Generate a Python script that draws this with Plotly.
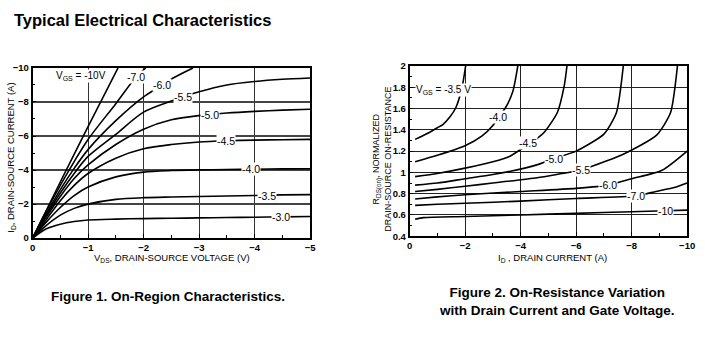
import plotly.graph_objects as go

# ---- Figure 1: drain current vs drain-source voltage, one curve per VGS ----
vds_sat = [0, -0.25, -0.5, -0.75, -1, -1.5, -2, -2.5, -3, -3.5, -4, -4.5, -5]
id_vgs_3_0 = [0, -0.55, -0.82, -0.98, -1.07, -1.12, -1.15, -1.17, -1.19, -1.21, -1.23, -1.25, -1.27]
id_vgs_3_5 = [0, -0.75, -1.35, -1.75, -2.0, -2.28, -2.38, -2.42, -2.45, -2.48, -2.51, -2.54, -2.56]
id_vgs_4_0 = [0, -0.95, -1.8, -2.5, -3.0, -3.6, -3.88, -3.97, -4.01, -4.03, -4.05, -4.07, -4.08]
id_vgs_4_5 = [0, -1.1, -2.2, -3.1, -3.8, -4.7, -5.25, -5.5, -5.65, -5.72, -5.76, -5.78, -5.8]
id_vgs_5_0 = [0, -1.25, -2.45, -3.5, -4.3, -5.5, -6.4, -6.95, -7.2, -7.35, -7.45, -7.52, -7.57]
id_vgs_5_5 = [0, -1.35, -2.65, -3.8, -4.8, -6.1, -7.4, -8.05, -8.6, -9.0, -9.2, -9.33, -9.41]

vds_6_0 = [0, -0.25, -0.5, -0.75, -1, -1.5, -2, -2.34, -2.5, -2.89]
id_vgs_6_0 = [0, -1.45, -2.85, -4.1, -5.2, -6.9, -8.3, -9.0, -9.35, -10]
vds_7_0 = [0, -0.25, -0.5, -0.75, -1, -1.5, -1.86, -2.04]
id_vgs_7_0 = [0, -1.6, -3.1, -4.5, -5.8, -7.9, -9.45, -10]
vds_10 = [0, -0.5, -1, -1.54]
id_vgs_10 = [0, -3.3, -6.55, -10]

fig1_curves = [
    (vds_sat, id_vgs_3_0), (vds_sat, id_vgs_3_5), (vds_sat, id_vgs_4_0),
    (vds_sat, id_vgs_4_5), (vds_sat, id_vgs_5_0), (vds_sat, id_vgs_5_5),
    (vds_6_0, id_vgs_6_0), (vds_7_0, id_vgs_7_0), (vds_10, id_vgs_10),
]
fig1_labels = ["-3.0", "-3.5", "-4.0", "-4.5", "-5.0", "-5.5", "-6.0", "-7.0"]
fig1_label_x = [-4.47, -4.22, -3.94, -3.49, -3.19, -2.71, -2.34, -1.86]
fig1_label_y = [-1.22, -2.5, -4.06, -5.73, -7.24, -8.28, -9.0, -9.45]

# ---- Figure 2: normalized on-resistance vs drain current ----
id_3_5 = [-0.2, -0.6, -1.0, -1.2, -1.45, -1.67, -1.9, -2.02]
r_3_5 = [1.31, 1.36, 1.42, 1.45, 1.52, 1.61, 1.81, 2.0]
id_4_0 = [-0.2, -1, -2, -2.6, -3.0, -3.2, -3.44, -3.72, -3.9]
r_4_0 = [1.1, 1.16, 1.25, 1.34, 1.44, 1.52, 1.6, 1.76, 2.0]
id_4_5 = [-0.2, -1, -2, -3, -3.6, -4.03, -4.5, -4.86, -5.32, -5.57, -5.67]
r_4_5 = [0.96, 0.99, 1.04, 1.1, 1.15, 1.22, 1.3, 1.38, 1.56, 1.81, 2.0]
id_5_0 = [-0.2, -1, -2, -3, -4.15, -4.7, -5.2, -6.0, -7.0, -7.45, -7.7]
r_5_0 = [0.88, 0.9, 0.94, 0.98, 1.04, 1.08, 1.13, 1.2, 1.36, 1.56, 2.0]
id_5_5 = [-0.2, -1, -2, -3, -4.6, -5.5, -6.17, -6.5, -7.7, -8.9, -9.4, -9.65]
r_5_5 = [0.82, 0.84, 0.87, 0.9, 0.95, 0.99, 1.02, 1.05, 1.17, 1.35, 1.56, 2.0]
id_6_0 = [-0.2, -1, -2, -4, -6, -7.16, -8, -9.1, -10]
r_6_0 = [0.75, 0.77, 0.79, 0.82, 0.85, 0.88, 0.94, 1.02, 1.2]
id_7_0 = [-0.2, -1, -2, -4, -6, -8.16, -8.87, -9.57, -10]
r_7_0 = [0.69, 0.7, 0.71, 0.73, 0.755, 0.78, 0.82, 0.86, 0.9]
id_10 = [-0.2, -0.5, -2, -4, -6, -8, -9.22, -10]
r_10 = [0.56, 0.575, 0.585, 0.6, 0.615, 0.63, 0.64, 0.645]

fig2_curves = [
    (id_3_5, r_3_5), (id_4_0, r_4_0), (id_4_5, r_4_5), (id_5_0, r_5_0),
    (id_5_5, r_5_5), (id_6_0, r_6_0), (id_7_0, r_7_0), (id_10, r_10),
]
fig2_labels = ["-4.0", "-4.5", "-5.0", "-5.5", "-6.0", "-7.0", "-10"]
fig2_label_x = [-3.2, -4.25, -5.2, -6.17, -7.16, -8.16, -9.22]
fig2_label_y = [1.52, 1.28, 1.13, 1.02, 0.88, 0.78, 0.64]

FONT = "Liberation Sans, Arial, sans-serif"
W, H = 705, 337

fig = go.Figure()

for xs, ys in fig1_curves:
    fig.add_trace(go.Scatter(x=xs, y=ys, mode="lines", xaxis="x", yaxis="y",
                             line=dict(color="black", width=1.6, shape="spline", smoothing=0.8),
                             hoverinfo="skip", showlegend=False))
for xs, ys in fig2_curves:
    fig.add_trace(go.Scatter(x=xs, y=ys, mode="lines", xaxis="x2", yaxis="y2",
                             line=dict(color="black", width=1.6, shape="spline", smoothing=0.6),
                             hoverinfo="skip", showlegend=False))


def px_x(p):
    return p / W


def px_y(p):
    return 1 - p / H


tickfont = dict(family=FONT, size=9.5, color="black", weight="bold")
axis_common = dict(showline=True, linecolor="black", linewidth=1.5, mirror=True,
                   ticks="inside", ticklen=4, tickcolor="black", tickfont=tickfont,
                   zeroline=False, fixedrange=True)

fig.update_layout(
    width=W, height=H, autosize=False,
    margin=dict(l=0, r=0, t=0, b=0),
    paper_bgcolor="white", plot_bgcolor="white",
    font=dict(family=FONT, color="black"),
    xaxis=dict(domain=[px_x(30), px_x(312)], range=[0, -5], dtick=1, anchor="y",
               showgrid=True, gridcolor="#333", gridwidth=1.3,
               minor=dict(dtick=0.5, ticks="inside", ticklen=3, tickcolor="black", showgrid=False),
               **axis_common),
    yaxis=dict(domain=[px_y(240), px_y(64)], range=[0, -10], dtick=2, anchor="x",
               showgrid=True, gridcolor="#444", gridwidth=1.5,
               minor=dict(dtick=1, ticks="inside", ticklen=3, tickcolor="black", showgrid=False),
               **axis_common),
    xaxis2=dict(domain=[px_x(413), px_x(695)], range=[0, -10], dtick=2, anchor="y2",
                showgrid=True, gridcolor="#222", gridwidth=1,
                minor=dict(dtick=1, ticks="inside", ticklen=3, tickcolor="black", showgrid=False),
                **axis_common),
    yaxis2=dict(domain=[px_y(238), px_y(62)], range=[0.4, 2], dtick=0.2, anchor="x2",
                tickformat="~g", ticklabelstandoff=0,
                showgrid=True, gridcolor="#222", gridwidth=1,
                minor=dict(dtick=0.1, ticks="inside", ticklen=3, tickcolor="black", showgrid=False),
                **axis_common),
)

ann = []
label_font = dict(family=FONT, size=10.5, color="black")
vgs_font = dict(family=FONT, size=10, color="black")


def centered(**kw):
    d = dict(showarrow=False, xanchor="center", yanchor="middle")
    d.update(kw)
    return d


for t, x, y in zip(fig1_labels, fig1_label_x, fig1_label_y):
    ann.append(centered(text=t, x=x, y=y, xref="x", yref="y",
                        bgcolor="white", borderpad=0, font=label_font))
ann.append(centered(text="V<sub>GS</sub> = -10V", x=-0.87, y=-9.5, xref="x", yref="y",
                    bgcolor="white", borderpad=0, font=vgs_font))

for t, x, y in zip(fig2_labels, fig2_label_x, fig2_label_y):
    ann.append(centered(text=t, x=x, y=y, xref="x2", yref="y2",
                        bgcolor="white", borderpad=0, font=label_font))
ann.append(centered(text="V<sub>GS</sub> = -3.5 V", x=-1.22, y=1.77, xref="x2", yref="y2",
                    bgcolor="white", borderpad=0, font=vgs_font))

title_font = dict(family=FONT, size=9.5, color="black")

# axis titles
ann.append(centered(text="V<sub>DS</sub>, DRAIN-SOURCE VOLTAGE (V)", x=px_x(172), y=px_y(260),
                    xref="paper", yref="paper", font=title_font))
ann.append(centered(text="I<sub>D</sub>, DRAIN-SOURCE CURRENT (A)", x=px_x(8), y=px_y(157),
                    xref="paper", yref="paper", textangle=-90, font=title_font))
ann.append(centered(text="I<sub>D</sub> , DRAIN CURRENT (A)", x=px_x(558), y=px_y(260),
                    xref="paper", yref="paper", font=title_font))
ann.append(centered(text="R<sub>DS(on)</sub>, NORMALIZED<br>DRAIN-SOURCE ON-RESISTANCE",
                    x=px_x(385), y=px_y(158), xref="paper", yref="paper",
                    textangle=-90, font=dict(family=FONT, size=9, color="black")))

# headings and captions
ann.append(dict(text="<b>Typical Electrical Characteristics</b>", x=px_x(9), y=px_y(14),
                xref="paper", yref="paper", xanchor="left", yanchor="middle", showarrow=False,
                font=dict(family=FONT, size=16.5, color="black")))
ann.append(centered(text="<b>Figure 1. On-Region Characteristics.</b>", x=px_x(168), y=px_y(300),
                    xref="paper", yref="paper",
                    font=dict(family=FONT, size=13.5, color="black")))
ann.append(centered(text="<b>Figure 2. On-Resistance Variation<br>with Drain Current and Gate Voltage.</b>",
                    x=px_x(563), y=px_y(305.5), xref="paper", yref="paper",
                    font=dict(family=FONT, size=13.5, color="black")))

fig.update_layout(annotations=ann)

fig.write_html("out.html")
